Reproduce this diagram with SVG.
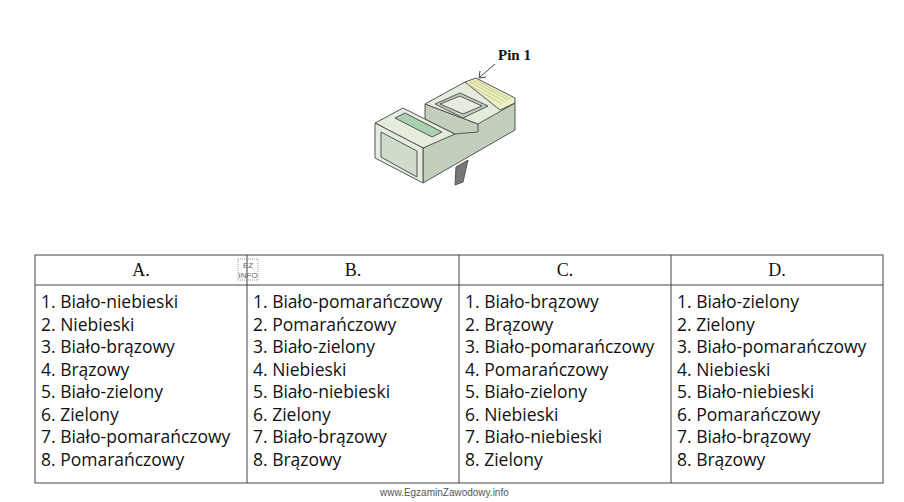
<svg xmlns="http://www.w3.org/2000/svg" width="904" height="502" viewBox="0 0 904 502">
<style>
.b{fill:#e3ecdd;stroke:#555;stroke-width:1}
.s{fill:#c3cfbd;stroke:#555;stroke-width:1}
.h{fill:#a9d0b0;stroke:#555;stroke-width:1}
.t{font-family:"Open Sans",sans-serif;font-size:17.5px;fill:#111}
.hd{font-family:"Liberation Serif",serif;font-size:18px;fill:#111;text-anchor:middle}
.ln{stroke:#444;stroke-width:1;fill:none}
.c{stroke:#c8c890;stroke-width:1}
</style>
<rect width="904" height="502" fill="#fff"/>
<g id="plug">
<polygon points="456,167 468,160 463,182 455,185" fill="#777" stroke="#555"/>
<polygon class="s" points="423,148 515,103 515,130 423,183"/>
<polygon class="b" points="375,123 403,108 455,134 423,148"/>
<polygon class="h" points="395,118 405,113 442,132 432,137"/>
<polygon class="s" points="425,104 478,124 478,132 455,134 425,119"/>
<polygon class="b" points="425,104 465,82 515,103 478,124"/>
<polygon class="s" points="435,104 460,93 488,106 463,118"/>
<polygon class="b" points="440,104 460,96 482,106 463,114"/>
<polygon points="465,82 476,78 515,98 515,103 500,110" fill="#eef0c4" stroke="#555"/>
<line class="c" x1="470" y1="82" x2="505" y2="102"/>
<line class="c" x1="473" y1="81" x2="508" y2="100"/>
<line class="c" x1="476" y1="80" x2="511" y2="99"/>
<line class="c" x1="468" y1="84" x2="502" y2="104"/>
<polygon class="b" points="375,123 423,148 423,183 375,158"/>
<polygon fill="#d0dccb" stroke="#555" points="381,132 417,151 417,177 381,157"/>
</g>
<g id="pin-label">
<text x="498" y="60" font-family="Liberation Serif,serif" font-weight="bold" font-size="15" fill="#111">Pin 1</text>
<line class="ln" x1="495" y1="64" x2="480" y2="77"/>
<polyline class="ln" points="480,71 479,78 486,77"/>
</g>
<g id="table">
<rect x="35" y="255" width="848" height="228" fill="none" stroke="#444"/>
<line class="ln" x1="35" y1="285" x2="883" y2="285"/>
<line class="ln" x1="247" y1="255" x2="247" y2="483"/>
<line class="ln" x1="459" y1="255" x2="459" y2="483"/>
<line class="ln" x1="671" y1="255" x2="671" y2="483"/>
<text class="hd" x="141" y="276">A.</text>
<text class="hd" x="353" y="276">B.</text>
<text class="hd" x="565" y="276">C.</text>
<text class="hd" x="777" y="276">D.</text>
<g id="ez"><rect x="238" y="259" width="20" height="21" fill="none" stroke="#666" stroke-dasharray="1,1" stroke-width="0.7"/>
<text x="248" y="268" font-family="Liberation Sans,sans-serif" font-size="8" fill="#666" text-anchor="middle">EZ</text>
<text x="248" y="278" font-family="Liberation Sans,sans-serif" font-size="8" fill="#666" text-anchor="middle">INFO</text></g>
<text class="t" x="41" y="308">1. Biało-niebieski</text>
<text class="t" x="41" y="331">2. Niebieski</text>
<text class="t" x="41" y="353">3. Biało-brązowy</text>
<text class="t" x="41" y="376">4. Brązowy</text>
<text class="t" x="41" y="398">5. Biało-zielony</text>
<text class="t" x="41" y="421">6. Zielony</text>
<text class="t" x="41" y="443">7. Biało-pomarańczowy</text>
<text class="t" x="41" y="466">8. Pomarańczowy</text>
<text class="t" x="253" y="308">1. Biało-pomarańczowy</text>
<text class="t" x="253" y="331">2. Pomarańczowy</text>
<text class="t" x="253" y="353">3. Biało-zielony</text>
<text class="t" x="253" y="376">4. Niebieski</text>
<text class="t" x="253" y="398">5. Biało-niebieski</text>
<text class="t" x="253" y="421">6. Zielony</text>
<text class="t" x="253" y="443">7. Biało-brązowy</text>
<text class="t" x="253" y="466">8. Brązowy</text>
<text class="t" x="465" y="308">1. Biało-brązowy</text>
<text class="t" x="465" y="331">2. Brązowy</text>
<text class="t" x="465" y="353">3. Biało-pomarańczowy</text>
<text class="t" x="465" y="376">4. Pomarańczowy</text>
<text class="t" x="465" y="398">5. Biało-zielony</text>
<text class="t" x="465" y="421">6. Niebieski</text>
<text class="t" x="465" y="443">7. Biało-niebieski</text>
<text class="t" x="465" y="466">8. Zielony</text>
<text class="t" x="677" y="308">1. Biało-zielony</text>
<text class="t" x="677" y="331">2. Zielony</text>
<text class="t" x="677" y="353">3. Biało-pomarańczowy</text>
<text class="t" x="677" y="376">4. Niebieski</text>
<text class="t" x="677" y="398">5. Biało-niebieski</text>
<text class="t" x="677" y="421">6. Pomarańczowy</text>
<text class="t" x="677" y="443">7. Biało-brązowy</text>
<text class="t" x="677" y="466">8. Brązowy</text>
</g>
<text x="380" y="496" font-family="Liberation Sans,sans-serif" font-size="10" fill="#555">www.EgzaminZawodowy.info</text>
</svg>
